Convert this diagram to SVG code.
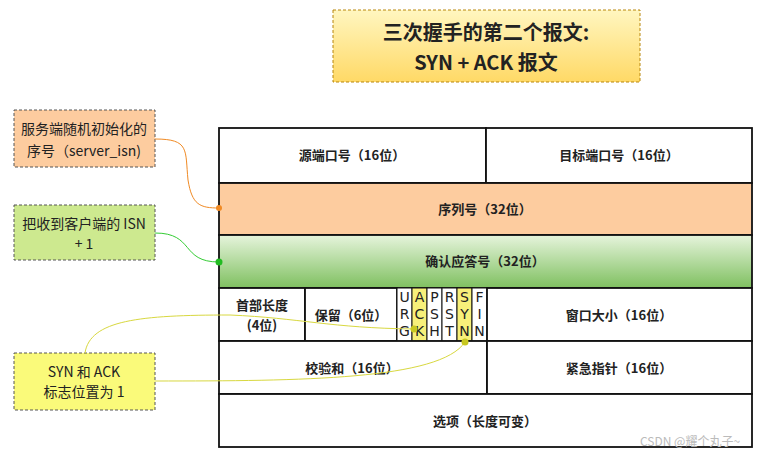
<svg xmlns="http://www.w3.org/2000/svg" width="771" height="463" viewBox="0 0 771 463">
<defs>
<linearGradient id="tg" x1="0" y1="0" x2="0" y2="1"><stop offset="0" stop-color="#fff6c0"/><stop offset="1" stop-color="#ffd966"/></linearGradient>
<linearGradient id="gg" x1="0" y1="0" x2="0" y2="1"><stop offset="0" stop-color="#e6f4dc"/><stop offset="1" stop-color="#7fc060"/></linearGradient>
</defs>
<style>
text{font-family:"Noto Sans CJK SC","Noto Sans",sans-serif;font-size:13px;fill:#222;text-anchor:middle}
.b{font-weight:bold}
.n{font-size:14px}
.cell{stroke:#111;stroke-width:1.8;fill:#fff}
.note{stroke:#555;stroke-dasharray:3 2;stroke-width:1}
.fl{font-family:"DejaVu Sans",sans-serif;font-size:14px}
.c{fill:none;stroke-width:1}
</style>
<rect width="771" height="463" fill="#fff"/>
<g id="title"><rect x="333" y="10" width="307" height="72" fill="url(#tg)" stroke="#b8860b" stroke-dasharray="3 2"/>
<text x="486" y="40" class="b" style="font-size:20px">三次握手的第二个报文:</text>
<text x="486" y="70" class="b" style="font-size:20px">SYN + ACK 报文</text></g>
<g id="table">
<rect class="cell" x="219" y="128" width="267" height="55"/><text x="352" y="160" class="b">源端口号（16位）</text>
<rect class="cell" x="486" y="128" width="266" height="55"/><text x="619" y="160" class="b">目标端口号（16位）</text>
<rect class="cell" x="219" y="183" width="533" height="52" style="fill:#fdcc9f"/><text x="485" y="214" class="b">序列号（32位）</text>
<rect class="cell" x="219" y="235" width="533" height="53" style="fill:url(#gg)"/><text x="485" y="266" class="b">确认应答号（32位）</text>
<rect class="cell" x="219" y="288" width="86" height="53"/><text x="262" y="310" class="b">首部长度</text><text x="262" y="330" class="b">(4位)</text>
<rect class="cell" x="305" y="288" width="92" height="53"/><text x="351" y="320" class="b">保留（6位）</text>
<rect class="cell" x="397" y="288" width="15" height="53" style="stroke-width:1"/>
<rect class="cell" x="412" y="288" width="15" height="53" style="fill:#f7f07a;stroke-width:1"/>
<rect class="cell" x="427" y="288" width="15" height="53" style="stroke-width:1"/>
<rect class="cell" x="442" y="288" width="15" height="53" style="stroke-width:1"/>
<rect class="cell" x="457" y="288" width="15" height="53" style="fill:#f7f07a;stroke-width:1"/>
<rect class="cell" x="472" y="288" width="15" height="53" style="stroke-width:1"/>
<text x="404.5" y="302" class="fl">U</text><text x="404.5" y="319" class="fl">R</text><text x="404.5" y="336" class="fl">G</text>
<text x="419.5" y="302" class="fl">A</text><text x="419.5" y="319" class="fl">C</text><text x="419.5" y="336" class="fl">K</text>
<text x="434.5" y="302" class="fl">P</text><text x="434.5" y="319" class="fl">S</text><text x="434.5" y="336" class="fl">H</text>
<text x="449.5" y="302" class="fl">R</text><text x="449.5" y="319" class="fl">S</text><text x="449.5" y="336" class="fl">T</text>
<text x="464.5" y="302" class="fl">S</text><text x="464.5" y="319" class="fl">Y</text><text x="464.5" y="336" class="fl">N</text>
<text x="479.5" y="302" class="fl">F</text><text x="479.5" y="319" class="fl">I</text><text x="479.5" y="336" class="fl">N</text>
<rect class="cell" x="487" y="288" width="265" height="53"/><text x="619" y="320" class="b">窗口大小（16位）</text>
<rect class="cell" x="219" y="341" width="268" height="53"/><text x="352" y="373" class="b">校验和（16位）</text>
<rect class="cell" x="487" y="341" width="265" height="53"/><text x="619" y="373" class="b">紧急指针（16位）</text>
<rect class="cell" x="219" y="394" width="533" height="53"/><text x="485" y="426" class="b">选项（长度可变）</text>
</g>
<g id="n1"><rect class="note" x="14" y="110" width="141" height="57" fill="#fdcc9f"/><text x="84" y="134" class="n">服务端随机初始化的</text><text x="84" y="156" class="n">序号（server_isn)</text></g>
<g id="n2"><rect class="note" x="14" y="205" width="141" height="55" fill="#cde98f"/><text x="84" y="229" class="n">把收到客户端的 ISN</text><text x="84" y="249" class="n">+ 1</text></g>
<g id="n3"><rect class="note" x="14" y="353" width="141" height="57" fill="#fafa7a"/><text x="84" y="377" class="n">SYN 和 ACK</text><text x="84" y="397" class="n">标志位置为 1</text></g>
<g id="connectors">
<path class="c" stroke="#f08a24" d="M155,139 C190,139 185,150 188,180 C192,205 200,208 219,208"/><circle cx="219" cy="208" r="3" fill="#f08a24"/>
<path class="c" stroke="#33cc33" d="M155,233 C195,233 180,262 219,262"/><circle cx="219" cy="262" r="3.5" fill="#22bb22"/>
<path class="c" stroke="#d8d840" d="M85,353 C90,320 140,315 230,315 C300,318 330,328 414,329"/><circle cx="414" cy="329" r="3.5" fill="#c8c820"/>
<path class="c" stroke="#d8d840" d="M155,381 C300,381 440,380 465,342"/><circle cx="465" cy="342" r="3.5" fill="#c8c820"/>
</g>
<text x="690" y="446" style="font-size:12px;fill:#bbb">CSDN @耀个丸子~</text>
</svg>
